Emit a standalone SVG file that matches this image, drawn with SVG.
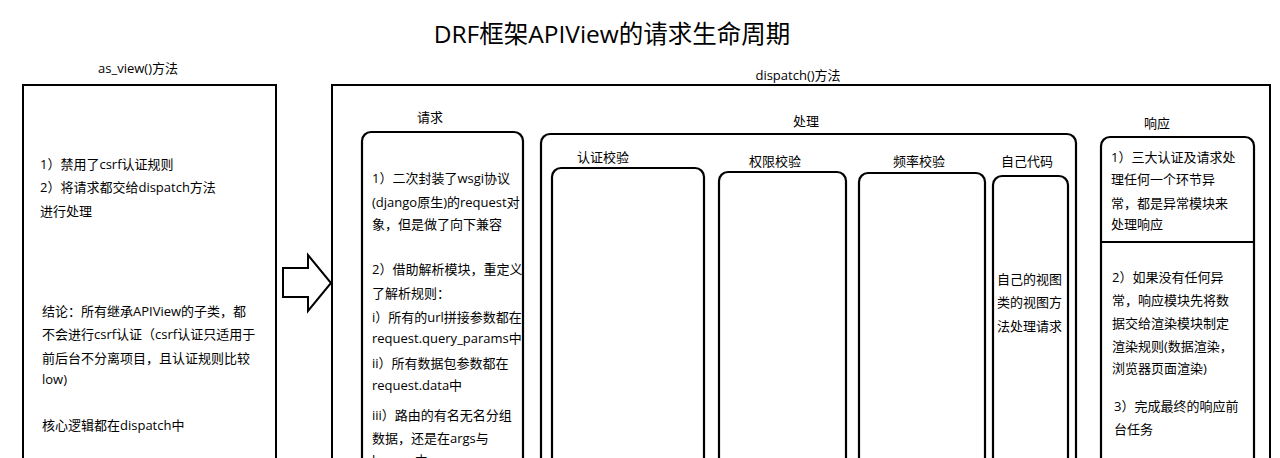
<svg xmlns="http://www.w3.org/2000/svg" width="1280" height="458" viewBox="0 0 1280 458">
  <style>
    text { font-family: "Open Sans", "Noto Sans CJK SC", sans-serif; fill: #000; }
    .t { font-size: 13px; }
    .lbl { font-size: 13px; text-anchor: middle; }
    .title { font-size: 24.5px; text-anchor: middle; }
    .box { fill: #fff; stroke: #000; stroke-width: 2; }
    .rbox { fill: #fff; stroke: #000; stroke-width: 2.2; }
  </style>
  <defs>
    <clipPath id="reqClip"><rect x="362" y="132" width="161" height="340"/></clipPath>
  </defs>
  <rect width="1280" height="458" fill="#fff"/>

  <g id="title">
    <text class="title" x="612" y="43">DRF框架APIView的请求生命周期</text>
  </g>

  <g id="as_view">
    <text class="lbl" x="138" y="73">as_view()方法</text>
    <rect class="box" x="23" y="85" width="253" height="400"/>
    <text class="t" x="40" y="169">1）禁用了csrf认证规则</text>
    <text class="t" x="40" y="192">2）将请求都交给dispatch方法</text>
    <text class="t" x="40" y="216">进行处理</text>
    <text class="t" x="42" y="316">结论：所有继承APIView的子类，都</text>
    <text class="t" x="42" y="339">不会进行csrf认证（csrf认证只适用于</text>
    <text class="t" x="42" y="363">前后台不分离项目，且认证规则比较</text>
    <text class="t" x="42" y="384">low)</text>
    <text class="t" x="42" y="430">核心逻辑都在dispatch中</text>
  </g>

  <g id="connectors">
    <polygon points="283,268 308,268 308,255 331,283 308,311 308,297 283,297" fill="#fff" stroke="#000" stroke-width="2" stroke-linejoin="miter"/>
  </g>

  <g id="dispatch">
    <text class="lbl" x="798" y="80">dispatch()方法</text>
    <rect class="box" x="332" y="85" width="938" height="400"/>
  </g>

  <g id="request">
    <text class="lbl" x="430" y="122">请求</text>
    <rect class="rbox" x="362" y="132" width="161" height="350" rx="9"/>
    <g clip-path="url(#reqClip)">
      <text class="t" x="372" y="183">1）二次封装了wsgi协议</text>
      <text class="t" x="372" y="207">(django原生)的request对</text>
      <text class="t" x="372" y="229">象，但是做了向下兼容</text>
      <text class="t" x="372" y="274">2）借助解析模块，重定义</text>
      <text class="t" x="372" y="298">了解析规则：</text>
      <text class="t" x="372" y="322">i）所有的url拼接参数都在</text>
      <text class="t" x="372" y="343">request.query_params中</text>
      <text class="t" x="372" y="368">ii）所有数据包参数都在</text>
      <text class="t" x="372" y="390">request.data中</text>
      <text class="t" x="372" y="420">iii）路由的有名无名分组</text>
      <text class="t" x="372" y="443">数据，还是在args与</text>
      <text class="t" x="372" y="465">kwargs中</text>
    </g>
  </g>

  <g id="process">
    <text class="lbl" x="806" y="126">处理</text>
    <rect class="rbox" x="541" y="134" width="535" height="350" rx="9"/>
  </g>

  <g id="auth">
    <text class="lbl" x="603" y="162">认证校验</text>
    <rect class="rbox" x="552" y="168" width="152" height="320" rx="9"/>
  </g>

  <g id="permission">
    <text class="lbl" x="775" y="166">权限校验</text>
    <rect class="rbox" x="719" y="172" width="127" height="320" rx="9"/>
  </g>

  <g id="throttle">
    <text class="lbl" x="919" y="166">频率校验</text>
    <rect class="rbox" x="859" y="173" width="126" height="320" rx="9"/>
  </g>

  <g id="own_code">
    <text class="lbl" x="1027" y="166">自己代码</text>
    <rect class="rbox" x="993" y="176" width="75" height="320" rx="9"/>
    <text class="t" x="997" y="284">自己的视图</text>
    <text class="t" x="997" y="307">类的视图方</text>
    <text class="t" x="997" y="331">法处理请求</text>
  </g>

  <g id="response">
    <text class="lbl" x="1157" y="128">响应</text>
    <rect class="rbox" x="1101" y="137" width="153" height="350" rx="9"/>
    <line x1="1101" y1="242" x2="1254" y2="242" stroke="#000" stroke-width="2.2"/>
    <text class="t" x="1111" y="162">1）三大认证及请求处</text>
    <text class="t" x="1111" y="184">理任何一个环节异</text>
    <text class="t" x="1111" y="208">常，都是异常模块来</text>
    <text class="t" x="1111" y="229">处理响应</text>
    <text class="t" x="1112" y="282">2）如果没有任何异</text>
    <text class="t" x="1112" y="305">常，响应模块先将数</text>
    <text class="t" x="1112" y="328">据交给渲染模块制定</text>
    <text class="t" x="1112" y="351">渲染规则(数据渲染，</text>
    <text class="t" x="1112" y="373">浏览器页面渲染)</text>
    <text class="t" x="1114" y="411">3）完成最终的响应前</text>
    <text class="t" x="1114" y="434">台任务</text>
  </g>
</svg>
